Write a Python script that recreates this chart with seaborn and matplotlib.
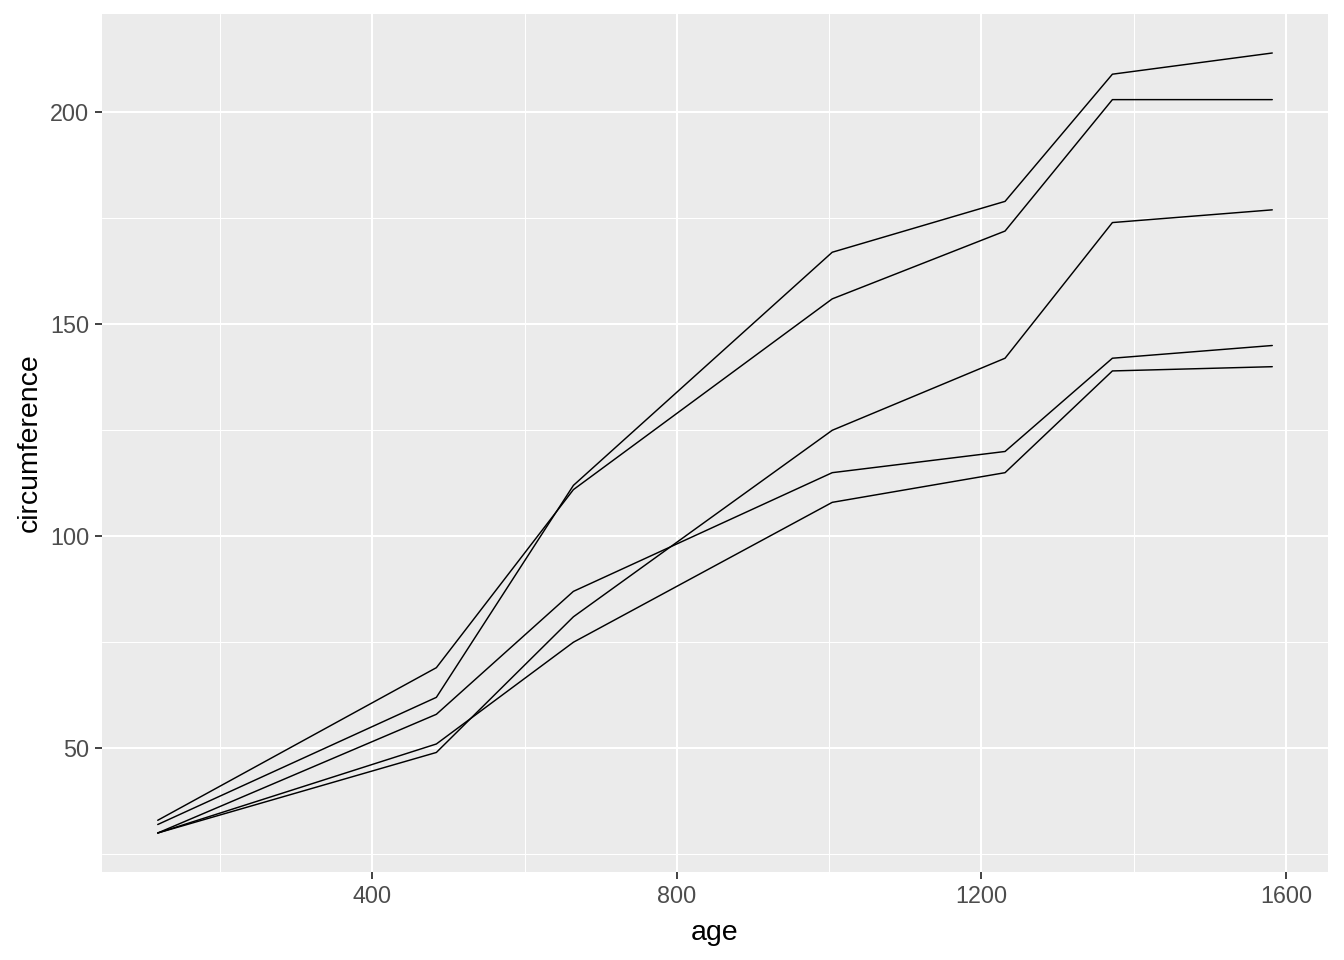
import numpy as np
import pandas as pd
import seaborn as sns
import matplotlib.pyplot as plt
from matplotlib.ticker import FixedLocator

# Orange tree growth data
ages = [118, 484, 664, 1004, 1231, 1372, 1582]
tree1 = [30, 58, 87, 115, 120, 142, 145]
tree2 = [33, 69, 111, 156, 172, 203, 203]
tree3 = [30, 51, 75, 108, 115, 139, 140]
tree4 = [32, 62, 112, 167, 179, 209, 214]
tree5 = [30, 49, 81, 125, 142, 174, 177]

trees = {"1": tree1, "2": tree2, "3": tree3, "4": tree4, "5": tree5}
df = pd.DataFrame([
    {"Tree": t, "age": a, "circumference": c}
    for t, vals in trees.items() for a, c in zip(ages, vals)
])

sns.set_theme(style="darkgrid")
plt.rcParams['font.family'] = ['Liberation Sans', 'DejaVu Sans']

fig = plt.figure(figsize=(13.44, 9.6), dpi=100)
ax = fig.add_axes([102 / 1344, 88 / 960, 1226 / 1344, 858 / 960])

sns.lineplot(data=df, x="age", y="circumference", units="Tree",
             estimator=None, color="black", linewidth=1.05, ax=ax)

# ggplot-style limits with 5% expansion
xr = max(ages) - min(ages)
ax.set_xlim(min(ages) - 0.05 * xr, max(ages) + 0.05 * xr)
allc = tree1 + tree2 + tree3 + tree4 + tree5
yr = max(allc) - min(allc)
ax.set_ylim(min(allc) - 0.05 * yr, max(allc) + 0.05 * yr)

ax.set_facecolor("#EBEBEB")
ax.xaxis.set_major_locator(FixedLocator([400, 800, 1200, 1600]))
ax.xaxis.set_minor_locator(FixedLocator([200, 600, 1000, 1400]))
ax.yaxis.set_major_locator(FixedLocator([50, 100, 150, 200]))
ax.yaxis.set_minor_locator(FixedLocator([25, 75, 125, 175]))
ax.grid(which="major", color="white", linewidth=1.5)
ax.grid(which="minor", color="white", linewidth=0.75)
ax.set_axisbelow(True)
for s in ax.spines.values():
    s.set_visible(False)

ax.tick_params(which="major", length=5.3, width=1.3, color="#333333",
               labelsize=16.8, labelcolor="#4D4D4D", pad=4)
ax.tick_params(which="minor", length=0)
ax.tick_params(axis="both", which="both", bottom=True, left=True)

ax.set_xlabel("age", fontsize=20.5, color="black", labelpad=9)
ax.set_ylabel("circumference", fontsize=20.5, color="black", labelpad=5)

fig.savefig("out.png", dpi=100)
